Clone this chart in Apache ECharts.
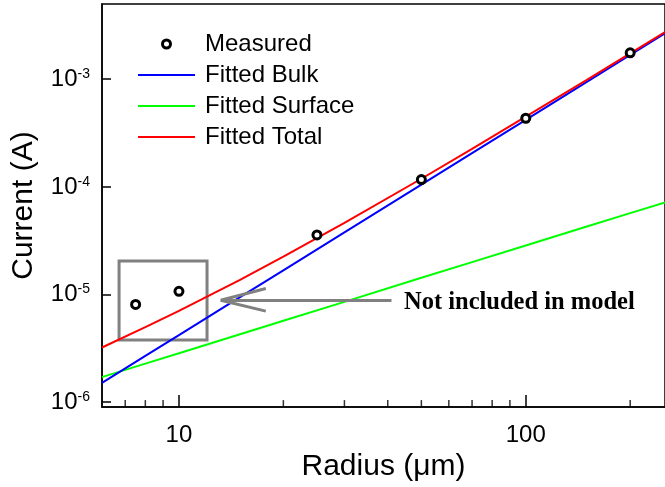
<!DOCTYPE html>
<html>
<head>
<meta charset="utf-8">
<script src="https://cdn.jsdelivr.net/npm/echarts@6/dist/echarts.min.js"></script>
<style>html,body{margin:0;padding:0;background:#fff;}#c{width:665px;height:487px;}</style>
</head>
<body>
<div id="c"></div>
<script>
// Measured data
const radiusMeasured = [7.5, 10, 25, 50, 100, 200];
const currentMeasured = [8.1e-6, 1.07e-5, 3.58e-5, 1.17e-4, 4.34e-4, 1.76e-3];
// Fitted curves
const fitRadius = [6, 8, 10, 15, 20, 30, 50, 70, 100, 150, 200, 252];
const fittedBulk = [1.51e-6, 2.69e-6, 4.2e-6, 9.45e-6, 1.68e-5, 3.78e-5, 1.05e-4, 2.06e-4, 4.2e-4, 9.45e-4, 1.68e-3, 2.67e-3];
const fittedSurface = [1.71e-6, 2.28e-6, 2.85e-6, 4.28e-6, 5.7e-6, 8.55e-6, 1.43e-5, 2.0e-5, 2.85e-5, 4.28e-5, 5.7e-5, 7.18e-5];
const fittedTotal = [3.22e-6, 4.97e-6, 7.05e-6, 1.37e-5, 2.25e-5, 4.64e-5, 1.19e-4, 2.26e-4, 4.49e-4, 9.88e-4, 1.74e-3, 2.74e-3];
// Axes
const xMin = 6, xMax = 252;
const yMin = 9e-7, yMax = 5e-3;
const xMajorLabels = [10, 100];
const xMinorTicks = [7, 8, 9, 20, 30, 40, 50, 60, 70, 80, 90, 200];
// Annotation (data coordinates)
const boxCorners = [[6.72, 2.05e-5], [12.05, 3.78e-6]];
const arrowTip = [13.2, 8.86e-6];
const arrowTail = [41, 8.86e-6];
const arrowBarbUp = [17.8, 1.136e-5];
const arrowBarbDown = [17.8, 7.01e-6];
const annotationText = 'Not included in model';

const zip = (xs, ys) => xs.map((x, i) => [x, ys[i]]);
const isPow10 = v => { const l = Math.log10(v); return Math.abs(l - Math.round(l)) < 1e-6; };

const chart = echarts.init(document.getElementById('c'));
const grey = '#808080';
const lineIcon = 'path://M0,0H57V2H0Z';
chart.setOption({
  animation: false,
  grid: { left: 102, top: 4, right: -3, bottom: 78, show: true, borderColor: '#000', borderWidth: 1.5 },
  legend: {
    orient: 'vertical', left: 133, top: 27, itemWidth: 57, itemHeight: 8, itemGap: 7,
    textStyle: { fontFamily: 'Liberation Sans', fontSize: 24, color: '#000', lineHeight: 24, padding: [0, 0, 0, 5] },
    data: [
      { name: 'Measured', icon: 'circle', itemStyle: { color: '#fff', borderColor: '#000', borderWidth: 3 } },
      { name: 'Fitted Bulk', icon: lineIcon, itemStyle: { color: '#0000ff' } },
      { name: 'Fitted Surface', icon: lineIcon, itemStyle: { color: '#00ff00' } },
      { name: 'Fitted Total', icon: lineIcon, itemStyle: { color: '#ff0000' } }
    ]
  },
  xAxis: {
    type: 'log', min: xMin, max: xMax,
    name: 'Radius (μm)', nameLocation: 'middle', nameGap: 41,
    nameTextStyle: { fontFamily: 'Liberation Sans', fontSize: 30, color: '#000' },
    axisLine: { lineStyle: { color: '#000', width: 1.5 } },
    axisTick: { inside: true, length: 12, lineStyle: { color: '#000', width: 1.5 } },
    splitLine: { show: false },
    axisLabel: {
      margin: 16, fontFamily: 'Liberation Sans', fontSize: 24, color: '#000',
      showMinLabel: false, showMaxLabel: false,
      formatter: v => (xMajorLabels.some(m => Math.abs(m - v) / m < 1e-6) ? String(Math.round(v)) : '')
    }
  },
  yAxis: {
    type: 'log', min: yMin, max: yMax,
    name: 'Current (A)', nameLocation: 'middle', nameGap: 63,
    nameTextStyle: { fontFamily: 'Liberation Sans', fontSize: 30, color: '#000' },
    axisLine: { lineStyle: { color: '#000', width: 1.5 } },
    axisTick: { inside: true, length: 9, lineStyle: { color: '#000', width: 1.5 } },
    splitLine: { show: false },
    axisLabel: {
      margin: 12, showMinLabel: false, showMaxLabel: false,
      formatter: v => isPow10(v) ? '{b|10}{s|' + Math.round(Math.log10(v)) + '}' : '',
      rich: {
        b: { fontFamily: 'Liberation Sans', fontSize: 24, lineHeight: 24, color: '#000' },
        s: { fontFamily: 'Liberation Sans', fontSize: 14, lineHeight: 14, color: '#000', verticalAlign: 'top' }
      }
    }
  },
  graphic: [{
    type: 'text', left: 404, top: 290, silent: true,
    style: { text: annotationText, fontFamily: 'Liberation Serif', fontWeight: 'bold', fontSize: 24.5, fill: '#000' }
  }],
  series: [
    {
      name: 'Fitted Surface', type: 'line', data: zip(fitRadius, fittedSurface), symbol: 'none',
      lineStyle: { color: '#00ff00', width: 2 }, itemStyle: { color: '#00ff00' }, z: 2
    },
    {
      name: 'Fitted Bulk', type: 'line', data: zip(fitRadius, fittedBulk), symbol: 'none',
      lineStyle: { color: '#0000ff', width: 2 }, itemStyle: { color: '#0000ff' }, z: 3
    },
    {
      name: 'Fitted Total', type: 'line', data: zip(fitRadius, fittedTotal), symbol: 'none',
      lineStyle: { color: '#ff0000', width: 2 }, itemStyle: { color: '#ff0000' }, z: 4
    },
    {
      name: 'Measured', type: 'scatter', data: zip(radiusMeasured, currentMeasured),
      symbol: 'circle', symbolSize: 8,
      itemStyle: { color: '#fff', borderColor: '#000', borderWidth: 3, opacity: 1 }, z: 6,
      markArea: {
        silent: true,
        itemStyle: { color: 'rgba(0,0,0,0)', borderColor: grey, borderWidth: 3 },
        data: [[{ coord: boxCorners[0] }, { coord: boxCorners[1] }]]
      },
      markLine: {
        silent: true, symbol: 'none', label: { show: false },
        lineStyle: { color: grey, width: 3, type: 'solid' },
        data: [
          [{ coord: arrowTip }, { coord: arrowTail }],
          [{ coord: arrowTip }, { coord: arrowBarbUp }],
          [{ coord: arrowTip }, { coord: arrowBarbDown }]
        ]
      }
    },
    {
      name: 'minorTicks', type: 'scatter', silent: true, z: 10,
      data: xMinorTicks.map(v => [v, yMin]),
      symbol: 'rect', symbolSize: [1.5, 7], symbolOffset: [0, -3.5],
      itemStyle: { color: '#000' }
    }
  ]
});
</script>
</body>
</html>
